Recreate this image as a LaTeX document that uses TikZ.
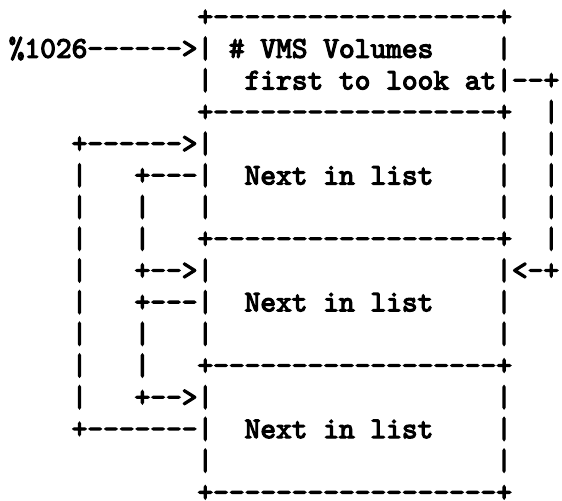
\documentclass[tikz,border=0pt]{standalone}
\begin{document}
% ASCII-art layout: one unit = one pixel of a 562 x 500 canvas,
% columns are 15.725 wide, text rows are 31.7 apart.
\font\asciifont="[lmmono10-regular]:embolden=4" at 14.98pt
\tikzset{
  ascii/.style={anchor=base west, inner sep=0pt, outer sep=0pt,
    font=\asciifont},
}
% a dash that never joins its neighbour
\newcommand\dsh{-\kern0pt}
\newcommand\dashes[1]{\foreach \k in {1,...,#1}{\dsh}}
% \cell{name}{column}{row}{text}
\newcommand\cell[4]{\node[ascii] (#1) at ({8.74+15.725*#2},{26+31.7*#3}) {#4};}
\begin{tikzpicture}[x=0.5pt,y=-0.5pt]
  \useasboundingbox (0,0) rectangle (562,500);

  % head block
  \cell{headTop}{12}{0}{+\dashes{18}+}
  \cell{ptr}{0}{1}{\%1026\dashes{6}>|}
  \cell{headA}{14}{1}{\# VMS Volumes}
  \cell{headAr}{31}{1}{|}
  \cell{headBl}{12}{2}{|}
  \cell{headB}{15}{2}{first to look at|\dashes{2}+}
  \cell{headBot}{12}{3}{+\dashes{18}+}
  \cell{outR3}{34}{3}{|}

  % first list entry
  \cell{inA}{4}{4}{+\dashes{6}>|}
  \cell{oneR4}{31}{4}{|}
  \cell{outR4}{34}{4}{|}
  \cell{outL5}{4}{5}{|}
  \cell{backA}{8}{5}{+\dashes{3}|}
  \cell{nextA}{15}{5}{Next in list}
  \cell{oneR5}{31}{5}{|}
  \cell{outR5}{34}{5}{|}
  \cell{outL6}{4}{6}{|}
  \cell{midL6}{8}{6}{|}
  \cell{oneL6}{12}{6}{|}
  \cell{oneR6}{31}{6}{|}
  \cell{outR6}{34}{6}{|}
  \cell{outL7}{4}{7}{|}
  \cell{midL7}{8}{7}{|}
  \cell{oneBot}{12}{7}{+\dashes{18}+}
  \cell{outR7}{34}{7}{|}

  % second list entry
  \cell{outL8}{4}{8}{|}
  \cell{inB}{8}{8}{+\dashes{2}>|}
  \cell{inR}{31}{8}{|<\dsh+}
  \cell{outL9}{4}{9}{|}
  \cell{backB}{8}{9}{+\dashes{3}|}
  \cell{nextB}{15}{9}{Next in list}
  \cell{twoR9}{31}{9}{|}
  \cell{outL10}{4}{10}{|}
  \cell{midL10}{8}{10}{|}
  \cell{twoL10}{12}{10}{|}
  \cell{twoR10}{31}{10}{|}
  \cell{outL11}{4}{11}{|}
  \cell{midL11}{8}{11}{|}
  \cell{twoBot}{12}{11}{+\dashes{18}+}

  % third list entry
  \cell{outL12}{4}{12}{|}
  \cell{inC}{8}{12}{+\dashes{2}>|}
  \cell{thrR12}{31}{12}{|}
  \cell{backC}{4}{13}{+\dashes{7}|}
  \cell{nextC}{15}{13}{Next in list}
  \cell{thrR13}{31}{13}{|}
  \cell{thrL14}{12}{14}{|}
  \cell{thrR14}{31}{14}{|}
  \cell{thrBot}{12}{15}{+\dashes{18}+}
\end{tikzpicture}
\end{document}
